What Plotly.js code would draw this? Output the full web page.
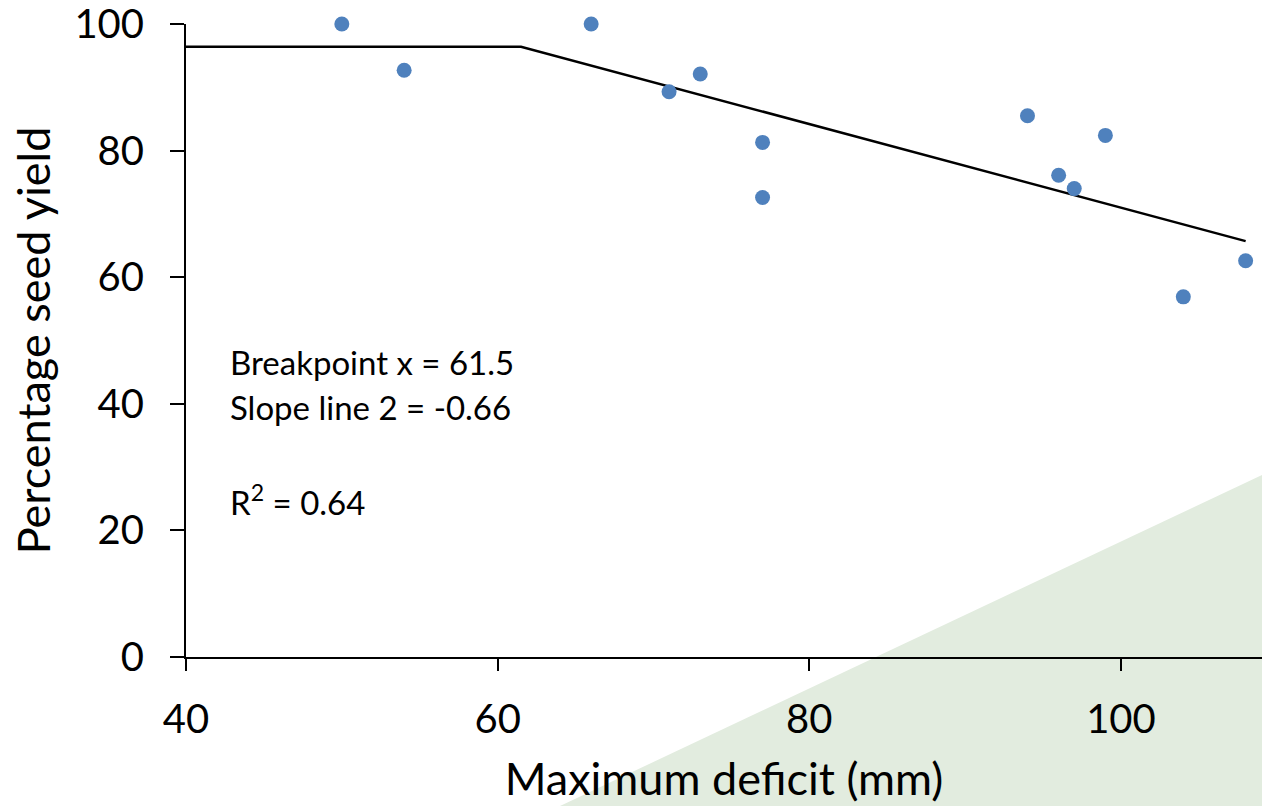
<!DOCTYPE html>
<html>
<head>
<meta charset="utf-8">
<script src="https://cdn.plot.ly/plotly-3.0.1.min.js"></script>
<style>
  html, body { margin: 0; padding: 0; background: #ffffff; }
  #chart { width: 1262px; height: 806px; }
</style>
</head>
<body>
<div id="chart"></div>
<script>
// Observed data
const deficitMm = [50, 54, 66, 71, 73, 77, 77, 94, 96, 97, 99, 104, 108];
const seedYieldPct = [100, 92.7, 100, 89.3, 92.1, 81.3, 72.6, 85.5, 76.1, 74.0, 82.4, 56.9, 62.6];

// Segmented regression fit
const fitX = [40, 61.5, 108];
const fitY = [96.4, 96.4, 65.7];

const xTicks = [40, 60, 80, 100];
const yTicks = [0, 20, 40, 60, 80, 100];

const fontFam = 'Lato, Carlito, "Open Sans", sans-serif';

const traces = [
  {
    x: fitX, y: fitY, type: 'scatter', mode: 'lines',
    line: { color: '#000000', width: 2.5 },
    hoverinfo: 'skip', cliponaxis: false
  },
  {
    x: deficitMm, y: seedYieldPct, type: 'scatter', mode: 'markers',
    marker: { color: '#4f81bd', size: 15, line: { width: 0 } },
    cliponaxis: false
  }
];

const layout = {
  width: 1262, height: 806,
  margin: { l: 186, r: 0, t: 24, b: 149 },
  paper_bgcolor: '#ffffff', plot_bgcolor: 'rgba(0,0,0,0)',
  showlegend: false,
  font: { family: fontFam, color: '#000000' },
  xaxis: {
    range: [40, 109.05], tickvals: xTicks, ticktext: xTicks.map(String),
    showgrid: false, zeroline: false,
    showline: true, linecolor: '#000000', linewidth: 2,
    ticks: 'outside', ticklen: 12, tickwidth: 2, tickcolor: '#000000',
    tickfont: { size: 40, family: fontFam },
    ticklabelstandoff: 14, ticklabeloverflow: 'allow',
    automargin: false,
    title: { text: 'Maximum deficit (mm)', font: { size: 45, family: fontFam }, standoff: 22 }
  },
  yaxis: {
    range: [0, 100.001], tickvals: yTicks, ticktext: yTicks.map(String),
    showgrid: false, zeroline: false,
    showline: true, linecolor: '#000000', linewidth: 2,
    ticks: 'outside', ticklen: 14, tickwidth: 2, tickcolor: '#000000',
    tickfont: { size: 40, family: fontFam },
    ticklabelstandoff: 18, ticklabeloverflow: 'allow',
    automargin: false,
    title: { text: 'Percentage seed yield', font: { size: 45, family: fontFam }, standoff: 10 }
  },
  shapes: [
    {
      type: 'path', xref: 'paper', yref: 'paper', layer: 'below',
      path: 'M 0.3476 -0.2354 L 1 0.2875 L 1 -0.2354 Z',
      fillcolor: '#e2ecdf', line: { width: 0 }
    }
  ],
  annotations: [
    { x: 42.7, y: 46.6, xref: 'x', yref: 'y', text: 'Breakpoint x = 61.5', showarrow: false,
      xanchor: 'left', yanchor: 'middle', font: { size: 33, family: fontFam } },
    { x: 42.7, y: 39.5, xref: 'x', yref: 'y', text: 'Slope line 2 = -0.66', showarrow: false,
      xanchor: 'left', yanchor: 'middle', font: { size: 33, family: fontFam } },
    { x: 42.7, y: 24.8, xref: 'x', yref: 'y', text: 'R<sup>2</sup> = 0.64', showarrow: false,
      xanchor: 'left', yanchor: 'middle', font: { size: 33, family: fontFam } }
  ]
};

Plotly.newPlot('chart', traces, layout, { displayModeBar: false, staticPlot: true });
</script>
</body>
</html>
